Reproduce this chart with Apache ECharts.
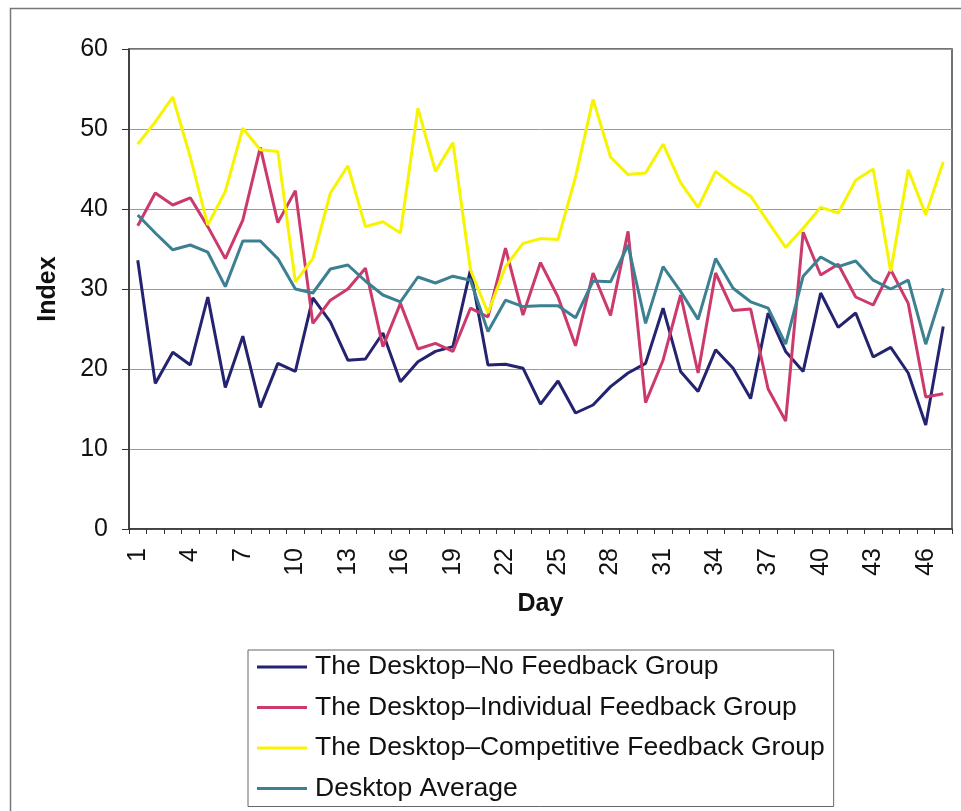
<!DOCTYPE html>
<html>
<head>
<meta charset="utf-8">
<script src="https://cdn.jsdelivr.net/npm/echarts@6/dist/echarts.min.js"></script>
<style>
  html, body { margin: 0; padding: 0; background: #fff; }
  #chart { width: 961px; height: 811px; }
</style>
</head>
<body>
<div id="chart"></div>
<script>
// day numbers on the x axis
const days = [1, 2, 3, 4, 5, 6, 7, 8, 9, 10, 11, 12, 13, 14, 15, 16, 17, 18, 19, 20,
  21, 22, 23, 24, 25, 26, 27, 28, 29, 30, 31, 32, 33, 34, 35, 36, 37, 38, 39, 40,
  41, 42, 43, 44, 45, 46, 47];

// index values
const noFeedback = [33.6, 18.2, 22.1, 20.5, 29.0, 17.7, 24.1, 15.2, 20.7, 19.7,
  28.9, 25.9, 21.1, 21.25, 24.5, 18.4, 20.9, 22.2, 22.8, 32.4,
  20.5, 20.6, 20.1, 15.6, 18.5, 14.5, 15.5, 17.8, 19.5, 20.7,
  27.6, 19.7, 17.2, 22.4, 20.1, 16.3, 27.0, 22.2, 19.7, 29.5,
  25.2, 27.0, 21.5, 22.7, 19.5, 13.0, 25.3];
const individual = [37.9, 42.0, 40.5, 41.4, 37.8, 33.8, 38.6, 47.7, 38.3, 42.3,
  25.7, 28.6, 30.0, 32.6, 22.8, 28.2, 22.5, 23.2, 22.2, 27.6,
  26.5, 35.1, 26.75, 33.3, 29.0, 22.9, 32.0, 26.7, 37.2, 15.8,
  21.1, 29.25, 19.5, 32.0, 27.3, 27.5, 17.5, 13.5, 37.1, 31.75,
  33.1, 29.0, 28.0, 32.4, 28.2, 16.5, 16.9];
const competitive = [48.1, 50.9, 54.0, 46.5, 38.0, 42.2, 50.1, 47.4, 47.2, 30.9,
  33.8, 42.0, 45.4, 37.8, 38.4, 37.0, 52.6, 44.7, 48.3, 32.4,
  27.0, 32.8, 35.7, 36.3, 36.2, 44.0, 53.7, 46.5, 44.3, 44.5,
  48.1, 43.3, 40.2, 44.7, 43.0, 41.6, 38.4, 35.2, 37.6, 40.2,
  39.5, 43.6, 45.0, 32.2, 44.9, 39.3, 45.9];
const average = [39.25, 37.0, 34.9, 35.5, 34.6, 30.3, 36.0, 36.0, 33.8, 30.0,
  29.5, 32.5, 33.0, 31.0, 29.25, 28.4, 31.5, 30.75, 31.6, 31.1,
  24.7, 28.6, 27.8, 27.9, 27.9, 26.4, 31.0, 30.9, 35.5, 25.7,
  32.8, 29.7, 26.2, 33.8, 30.1, 28.4, 27.6, 23.1, 31.6, 34.0,
  32.8, 33.5, 31.1, 30.0, 31.1, 23.1, 30.1];

const seriesNames = [
  "The Desktop\u2013No Feedback Group",
  "The Desktop\u2013Individual Feedback Group",
  "The Desktop\u2013Competitive Feedback Group",
  "Desktop Average"
];
const seriesData = [noFeedback, individual, competitive, average];
const colors = ["#23236f", "#cc3a6c", "#f7f400", "#3c8092"];

const font = "Liberation Sans, Arial, sans-serif";
const chart = echarts.init(document.getElementById("chart"));

let series = seriesData.map((each, index) => {
  return {
    name: seriesNames[index],
    type: "line",
    data: each,
    symbol: "none",
    lineStyle: { width: 3, color: colors[index] },
    itemStyle: { color: colors[index] },
    animation: false
  };
});

let option = {
  backgroundColor: "#fff",
  animation: false,
  color: colors,
  graphic: [
    {
      type: "rect",
      left: 8,
      top: 6,
      shape: { width: 1000, height: 1000 },
      style: { fill: "none", stroke: "#777", lineWidth: 1.5 },
      silent: true
    }
  ],
  grid: {
    left: 129,
    top: 49,
    right: 9,
    bottom: 282,
    show: true,
    borderColor: "#444",
    borderWidth: 1.5
  },
  legend: {
    orient: "vertical",
    left: 248,
    top: 650,
    padding: [2, 9, 3, 9],
    itemGap: 10.5,
    itemWidth: 50,
    itemHeight: 3,
    icon: "rect",
    borderColor: "#666",
    borderWidth: 1,
    selectedMode: false,
    textStyle: {
      fontFamily: font,
      fontSize: 26.5,
      color: "#111",
      lineHeight: 30,
      padding: [0, 0, 0, 3]
    },
    data: seriesNames
  },
  xAxis: {
    type: "category",
    data: days,
    boundaryGap: true,
    name: "Day",
    nameLocation: "middle",
    nameGap: 63,
    nameTextStyle: { fontFamily: font, fontSize: 25, fontWeight: "bold", color: "#111" },
    axisLine: { lineStyle: { color: "#333", width: 1.5 } },
    axisTick: { show: true, interval: 0, length: 5, lineStyle: { color: "#333" } },
    axisLabel: {
      interval: 2,
      rotate: 90,
      margin: 19,
      fontFamily: font,
      fontSize: 25,
      color: "#111"
    },
    splitLine: { show: false }
  },
  yAxis: {
    type: "value",
    min: 0,
    max: 60,
    interval: 10,
    name: "Index",
    nameLocation: "middle",
    nameGap: 68,
    nameTextStyle: { fontFamily: font, fontSize: 25, fontWeight: "bold", color: "#111" },
    axisLine: { show: true, lineStyle: { color: "#333", width: 1.5 } },
    axisTick: { show: true, length: 7, lineStyle: { color: "#333" } },
    axisLabel: { margin: 21, fontFamily: font, fontSize: 25, color: "#111" },
    splitLine: { show: true, lineStyle: { color: "#9a9a9a", width: 1 } }
  },
  series: series
};

chart.setOption(option);
</script>
</body>
</html>
